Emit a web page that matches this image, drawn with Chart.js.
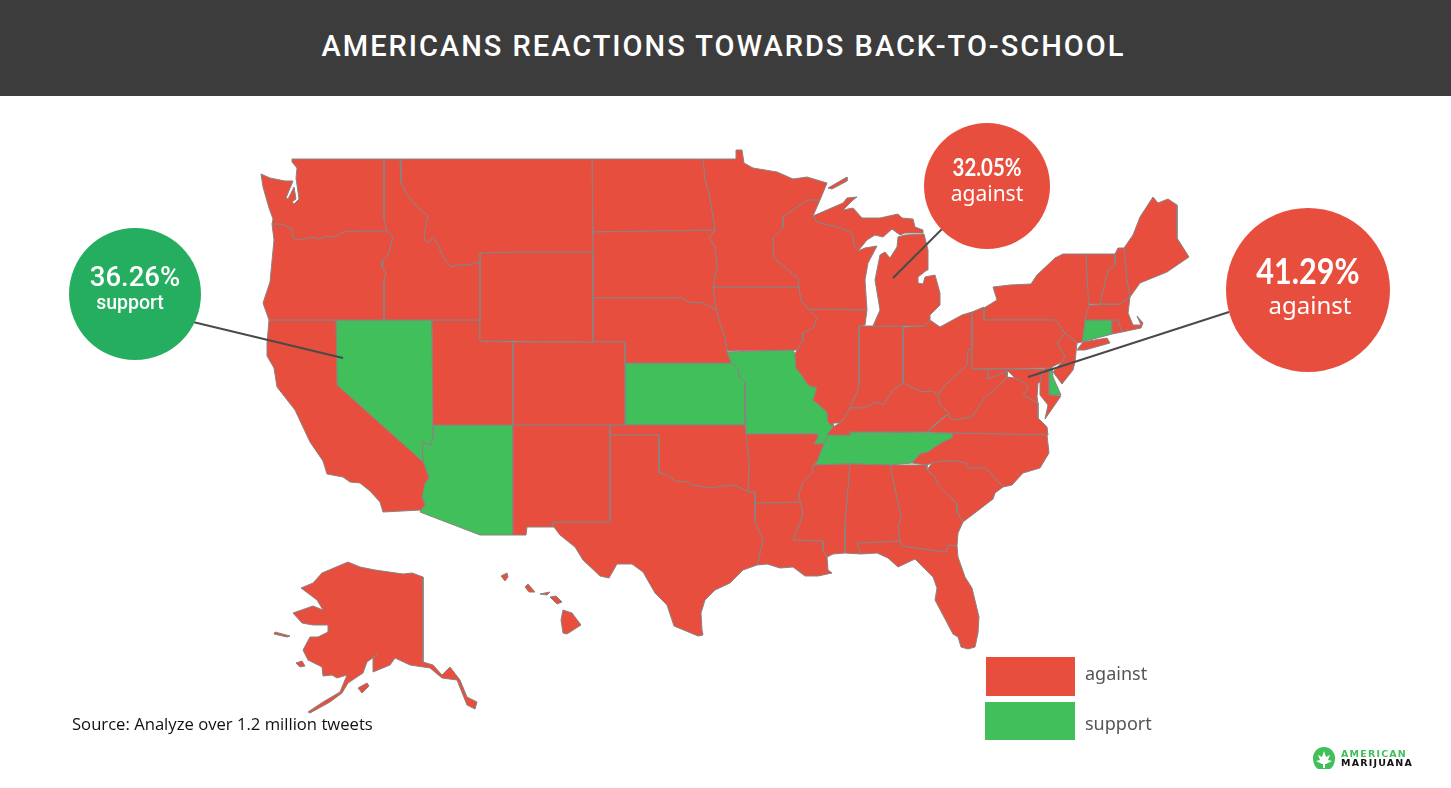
<!DOCTYPE html>
<html>
<head>
<meta charset="utf-8">
<title>Americans reactions towards back-to-school</title>
<script src="https://cdn.jsdelivr.net/npm/chart.js@4/dist/chart.umd.min.js"></script>
<style>
  html, body { margin: 0; padding: 0; background: #fff; overflow: hidden; }
  #page { position: relative; width: 1451px; height: 788px; }
  #map { position: absolute; left: 0; top: 0; }
  #header {
    position: absolute; left: 0; top: 0; width: 1451px; height: 96px; background: #3c3c3c;
    color: #fff; font: 500 29px Roboto, sans-serif; letter-spacing: 2px;
    text-indent: -4px; text-align: center; line-height: 92px;
  }
  #source { position: absolute; left: 72px; top: 712px; font: 16.65px "Open Sans", sans-serif; color: #111; }
  .swatch { position: absolute; }
  .key { position: absolute; left: 1085px; font: 18px "Noto Sans", sans-serif; color: #555; }
  #logo { position: absolute; left: 1312px; top: 746px; width: 24px; height: 23px; }
  .brand { position: absolute; left: 1341px; font: 900 9.5px/9px "DejaVu Sans", sans-serif; letter-spacing: 1.2px; }
</style>
</head>
<body>
<div id="page">
  <canvas id="map" width="1451" height="788"></canvas>
  <div id="header">AMERICANS REACTIONS TOWARDS BACK-TO-SCHOOL</div>
  <div id="source">Source: Analyze over 1.2 million tweets</div>
  <div class="swatch" style="left:986px;top:657px;width:89px;height:39px;background:#e84e3d"></div>
  <div class="swatch" style="left:985px;top:702px;width:90px;height:38px;background:#40bf5a"></div>
  <div class="key" style="top:661px">against</div>
  <div class="key" style="top:711px">support</div>
  <svg id="logo" viewBox="0 0 24 23">
    <path d="M1 12a11 11 0 0 1 22 0c0 5-2 9-5 11H6c-3-2-5-6-5-11z" fill="#40bf5a"/>
    <path d="M12 5l2 6 4-2-2 5 4 1-6 3h-1v4h-2v-4h-1l-6-3 4-1-2-5 4 2z" fill="#fff"/>
  </svg>
  <div class="brand" style="top:749px;color:#40bf5a">AMERICAN</div>
  <div class="brand" style="top:758px;color:#111">MARIJUANA</div>
</div>
<script>
// state outlines, in map units
const WA = [[292,159],[384,159],[384,220],[387,231],[353,231],[343,232],[335,237],[327,236],[321,239],[311,237],[298,240],[293,238],[292,229],[283,224],[272,224],[273,219],[269,208],[263,187],[261,174],[270,178],[285,181],[293,181],[286,198],[288,199],[294,187],[296,199],[292,202],[294,204],[299,199],[296,178],[297,168],[292,162],[292,159]];
const OR = [[272,224],[283,224],[292,229],[293,238],[298,240],[311,237],[321,239],[327,236],[335,237],[343,232],[353,231],[387,231],[393,237],[388,255],[383,260],[382,267],[386,274],[384,280],[384,320],[269,320],[263,303],[270,282],[274,240],[272,224]];
const ID = [[384,159],[400,159],[401,183],[407,195],[417,207],[428,216],[425,230],[424,240],[428,243],[433,237],[438,245],[443,257],[451,267],[458,265],[472,265],[477,261],[480,265],[480,320],[384,320],[384,280],[386,274],[382,267],[383,260],[388,255],[393,237],[387,231],[384,220],[384,159]];
const MT = [[400,159],[592,159],[593,252],[512,252],[480,253],[480,265],[477,261],[472,265],[458,265],[451,267],[443,257],[438,245],[433,237],[428,243],[424,240],[425,230],[428,216],[417,207],[407,195],[401,183],[400,159]];
const WY = [[480,253],[512,252],[593,252],[593,342],[480,341],[480,253]];
const NV = [[336,320],[432,320],[433,437],[431,445],[423,442],[422,445],[423,462],[337,385],[336,320]];
const CA = [[269,320],[336,320],[337,385],[423,462],[429,478],[425,483],[422,497],[425,505],[421,510],[383,512],[380,502],[370,491],[360,483],[350,482],[343,477],[327,474],[323,461],[310,442],[295,410],[277,387],[274,368],[267,356],[267,343],[269,320]];
const AZ = [[433,425],[513,425],[513,535],[480,535],[420,512],[421,510],[425,505],[422,497],[425,483],[429,478],[423,462],[422,445],[423,442],[431,445],[433,437],[433,425]];
const UT = [[432,320],[480,320],[480,341],[513,342],[513,425],[433,425],[432,320]];
const CO = [[513,342],[625,342],[625,425],[513,425],[513,342]];
const NM = [[513,425],[610,425],[610,522],[552,522],[554,527],[527,527],[526,535],[513,535],[513,425]];
const TX = [[610,435],[659,435],[659,473],[668,475],[675,481],[688,482],[692,485],[712,488],[723,486],[735,485],[748,492],[755,492],[755,522],[763,540],[760,553],[757,565],[743,570],[730,583],[715,590],[705,600],[701,613],[702,630],[703,635],[698,636],[674,626],[667,605],[655,593],[643,572],[632,564],[617,564],[609,578],[600,576],[583,560],[575,547],[560,535],[554,527],[552,522],[610,522],[610,435]];
const OK = [[610,425],[745,425],[746,434],[749,463],[748,492],[735,485],[723,486],[712,488],[692,485],[688,482],[675,481],[668,475],[659,473],[659,435],[610,435],[610,425]];
const KS = [[625,363],[731,363],[738,368],[739,377],[745,382],[745,425],[625,425],[625,363]];
const NE = [[593,298],[682,298],[688,302],[703,303],[716,310],[720,323],[725,338],[727,352],[731,363],[625,363],[625,342],[593,342],[593,298]];
const SD = [[593,232],[715,230],[709,238],[715,247],[717,267],[713,287],[715,303],[716,310],[703,303],[688,302],[682,298],[593,298],[593,232]];
const ND = [[592,159],[703,159],[705,180],[709,193],[715,230],[593,232],[592,159]];
const MN = [[703,159],[736,159],[736,150],[742,150],[744,163],[753,168],[777,172],[793,179],[807,177],[827,183],[820,200],[807,200],[783,217],[783,228],[773,238],[774,258],[783,266],[798,278],[799,287],[713,287],[717,267],[715,247],[709,238],[715,230],[709,193],[705,180],[703,159]];
const ISLE_ROYALE = [[828,188],[847,177],[847,181],[832,189],[828,188]];
const WI = [[807,200],[820,200],[813,216],[817,222],[840,228],[852,233],[855,248],[858,251],[865,248],[877,246],[868,263],[865,280],[867,310],[808,309],[801,300],[799,287],[798,278],[783,266],[774,258],[773,238],[783,228],[783,217],[807,200]];
const MI_UPPER = [[813,216],[817,222],[840,228],[852,233],[855,248],[858,251],[867,240],[875,235],[883,237],[892,229],[900,235],[905,233],[923,233],[923,230],[915,227],[913,219],[902,218],[898,214],[880,218],[862,218],[853,208],[843,210],[853,200],[857,197],[847,198],[843,203],[813,216]];
const MI_LOWER = [[873,326],[925,326],[930,320],[930,315],[940,305],[940,293],[935,275],[925,277],[923,284],[918,283],[918,277],[927,270],[928,250],[924,234],[905,235],[898,237],[897,247],[890,258],[885,252],[880,255],[875,280],[880,310],[873,326]];
const IA = [[713,287],[799,287],[801,300],[808,309],[817,318],[813,328],[803,333],[803,340],[797,350],[727,351],[725,338],[720,323],[716,310],[715,303],[713,287]];
const MO = [[727,352],[793,350],[795,354],[796,368],[803,377],[808,385],[817,388],[813,400],[827,412],[828,422],[833,427],[827,437],[824,444],[814,444],[818,437],[817,434],[746,434],[745,382],[739,377],[738,368],[731,363],[727,352]];
const AR = [[746,434],[817,434],[818,437],[814,444],[824,444],[820,453],[817,462],[813,465],[812,473],[803,482],[799,493],[800,502],[755,503],[755,492],[748,492],[749,463],[746,434]];
const LA = [[755,503],[800,502],[803,513],[800,523],[793,540],[823,541],[823,550],[827,557],[828,570],[832,573],[818,576],[805,576],[793,567],[780,568],[767,564],[757,565],[760,553],[763,540],[755,522],[755,503]];
const MS = [[813,465],[850,464],[845,523],[845,553],[833,554],[827,557],[823,550],[823,541],[793,540],[800,523],[803,513],[800,502],[799,493],[803,482],[812,473],[813,465]];
const AL = [[850,464],[890,465],[901,517],[898,527],[900,541],[857,543],[861,554],[845,553],[845,523],[850,464]];
const GA = [[890,465],[927,465],[927,470],[935,477],[938,485],[948,495],[957,503],[957,512],[963,522],[958,533],[957,546],[948,545],[946,552],[902,546],[900,541],[898,527],[901,517],[890,465]];
const FL = [[857,543],[900,541],[902,546],[946,552],[948,545],[957,546],[958,557],[965,577],[972,588],[979,617],[978,633],[975,647],[968,649],[961,647],[958,637],[953,634],[935,600],[937,588],[933,577],[915,559],[898,567],[888,558],[877,553],[861,554],[857,543]];
const SC = [[927,470],[932,463],[943,461],[957,461],[966,463],[967,468],[986,468],[1003,487],[995,493],[993,499],[980,509],[963,522],[957,512],[957,503],[948,495],[938,485],[935,477],[927,470]];
const NC = [[953,433],[1047,435],[1049,453],[1040,468],[1023,473],[1012,485],[1003,487],[986,468],[967,468],[966,463],[957,461],[943,461],[932,463],[927,465],[912,463],[920,454],[928,452],[935,447],[943,442],[952,438],[953,433]];
const TN = [[827,435],[850,435],[850,432],[953,433],[952,438],[943,442],[935,447],[928,452],[920,454],[912,463],[890,465],[850,464],[813,465],[817,462],[820,453],[824,444],[827,435]];
const KY = [[827,435],[850,435],[850,432],[927,432],[933,426],[945,416],[950,414],[940,405],[938,395],[933,391],[922,392],[903,383],[893,390],[883,405],[877,402],[863,408],[850,408],[845,417],[840,423],[833,427],[827,435]];
const IL = [[808,309],[867,310],[865,325],[859,326],[859,382],[858,390],[851,405],[850,408],[845,417],[840,423],[833,423],[833,427],[828,422],[827,412],[813,400],[817,388],[808,385],[803,377],[796,368],[795,354],[797,350],[803,340],[803,333],[813,328],[817,318],[808,309]];
const IN = [[859,326],[903,326],[903,383],[893,390],[883,405],[877,402],[863,408],[850,408],[851,405],[858,390],[859,382],[859,326]];
const OH = [[903,327],[925,326],[930,320],[940,327],[962,315],[972,312],[972,348],[968,350],[967,365],[953,378],[945,385],[938,395],[933,391],[922,392],[903,383],[903,327]];
const PA = [[972,312],[984,307],[984,320],[1055,320],[1065,333],[1057,343],[1065,357],[1062,362],[1050,368],[972,369],[972,312]];
const NY = [[984,308],[997,300],[993,287],[1010,285],[1031,284],[1037,275],[1055,258],[1063,254],[1086,254],[1087,280],[1089,305],[1085,320],[1082,342],[1077,343],[1065,333],[1055,320],[984,320],[984,308]];
const LONG_ISLAND = [[1083,342],[1107,338],[1110,343],[1085,350],[1077,350],[1083,342]];
const NJ = [[1065,333],[1077,343],[1076,352],[1075,362],[1073,370],[1062,384],[1059,380],[1053,372],[1062,362],[1065,357],[1057,343],[1065,333]];
const DE = [[1049,367],[1052,367],[1053,377],[1061,395],[1049,395],[1049,367]];
const MD_EAST = [[1044,369],[1049,367],[1049,395],[1061,396],[1045,419],[1048,405],[1040,395],[1040,382],[1044,369]];
const MD_WEST = [[988,369],[1044,369],[1040,382],[1038,383],[1037,397],[1038,403],[1023,395],[1029,387],[1025,383],[1015,378],[1008,371],[1000,374],[988,379],[988,369]];
const VA = [[927,432],[947,415],[953,420],[972,417],[985,397],[997,388],[1007,377],[1015,378],[1025,383],[1029,387],[1023,395],[1038,403],[1038,418],[1047,427],[1048,435],[953,433],[927,432]];
const WV = [[972,348],[972,369],[988,369],[988,379],[1000,374],[1008,371],[1007,377],[997,388],[985,397],[972,417],[953,420],[947,415],[950,414],[940,405],[938,395],[945,385],[953,378],[967,365],[968,350],[972,348]];
const VT = [[1086,254],[1115,254],[1115,265],[1108,270],[1102,295],[1100,304],[1088,304],[1087,280],[1086,254]];
const NH = [[1115,254],[1118,248],[1124,248],[1127,280],[1130,297],[1120,304],[1100,304],[1102,295],[1108,270],[1115,265],[1115,254]];
const ME = [[1124,248],[1133,235],[1140,217],[1153,197],[1158,203],[1168,199],[1177,205],[1177,238],[1189,257],[1167,272],[1140,283],[1130,297],[1127,280],[1124,248]];
const MA = [[1088,305],[1120,304],[1130,297],[1128,313],[1133,325],[1141,325],[1137,316],[1143,323],[1141,328],[1122,332],[1118,320],[1085,320],[1088,305]];
const RI = [[1112,320],[1118,320],[1122,332],[1112,334],[1112,320]];
const CT = [[1085,320],[1112,320],[1112,334],[1082,342],[1085,320]];
const AK = [[423,577],[423,662],[433,665],[442,675],[450,667],[460,680],[467,697],[477,702],[475,709],[467,705],[457,680],[442,678],[430,668],[410,665],[395,658],[390,665],[373,672],[373,658],[378,654],[367,662],[363,673],[348,683],[342,693],[330,702],[310,713],[308,712],[323,702],[340,692],[347,675],[337,678],[332,675],[323,676],[322,667],[308,660],[303,650],[310,637],[318,637],[328,632],[328,625],[313,625],[302,623],[293,613],[313,606],[323,610],[317,600],[301,588],[313,583],[322,573],[348,562],[360,567],[375,570],[403,574],[412,573],[423,577]];
const AK_LAWRENCE = [[275,632],[290,636],[287,637],[274,634],[275,632]];
const AK_NUNIVAK = [[296,663],[302,661],[305,666],[300,667],[296,663]];
const AK_KODIAK = [[358,688],[367,683],[369,686],[362,693],[358,688]];
const HI_KAUAI = [[501,576],[507,573],[508,577],[505,581],[501,576]];
const HI_OAHU = [[525,587],[528,584],[535,592],[529,592],[525,587]];
const HI_MOLOKAI = [[540,594],[550,592],[547,595],[540,594]];
const HI_MAUI = [[550,597],[556,596],[562,602],[557,604],[550,597]];
const HI_BIG = [[563,610],[572,613],[581,625],[567,634],[563,633],[561,620],[563,610]];

const againstStates = [WA, OR, ID, MT, WY, CA, UT, CO, NM, TX, OK, NE, SD, ND, MN, ISLE_ROYALE, WI, MI_UPPER, MI_LOWER, IA, AR, LA, MS, AL, GA, FL, SC, NC, KY, IL, IN, OH, PA, NY, LONG_ISLAND, NJ, MD_EAST, MD_WEST, VA, WV, VT, NH, ME, MA, RI, AK, AK_LAWRENCE, AK_NUNIVAK, AK_KODIAK, HI_KAUAI, HI_OAHU, HI_MOLOKAI, HI_MAUI, HI_BIG];
const supportStates = [NV, AZ, KS, MO, TN, CT, DE];

// callouts
const shares = ["36.26%", "32.05%", "41.29%"];
const stances = ["support", "against", "against"];
const calloutCenters = [[135, 294], [987, 186], [1308, 290]];
const calloutRadii = [66, 63, 82];
const calloutColors = ["#26ae60", "#e84e3d", "#e84e3d"];
const leaderLines = [[[193, 322], [343, 358]], [[942, 229], [893, 278]], [[1229, 312], [1028, 377]]];
const shareFonts = ["500 27.5px Roboto", "bold 24px Lato", "bold 36px Lato"];
const shareSqueeze = [1, 0.85, 0.85];
const stanceFonts = ["500 19.5px Roboto", "21px 'Noto Sans'", "24px 'Noto Sans'"];
const shareOffsets = [[0, -15], [0, -18], [0, -18]];
const stanceOffsets = [[-5, 10], [0, 9], [2, 17]];

const toPoints = (list) => list.map(([x, y]) => ({ x, y }));

const stateDataset = (outline, color) => ({
  type: "scatter",
  data: toPoints(outline),
  showLine: true,
  fill: "shape",
  backgroundColor: color,
  borderColor: "#8a8280",
  borderWidth: 1,
  pointRadius: 0,
  tension: 0,
  order: 3,
});

const datasets = [
  ...againstStates.map((s) => stateDataset(s, "#e84e3d")),
  ...supportStates.map((s) => stateDataset(s, "#40bf5a")),
  ...leaderLines.map((l) => ({
    type: "scatter",
    data: toPoints(l),
    showLine: true,
    borderColor: "#4a4a4a",
    borderWidth: 2,
    pointRadius: 0,
    order: 2,
  })),
  {
    type: "scatter",
    data: toPoints(calloutCenters),
    backgroundColor: calloutColors,
    borderWidth: 0,
    pointRadius: calloutRadii,
    order: 1,
  },
];

// labels inside the callout circles
const calloutLabels = {
  id: "calloutLabels",
  afterDraw(chart) {
    const { ctx, scales } = chart;
    ctx.save();
    ctx.fillStyle = "#fff";
    ctx.textAlign = "center";
    ctx.textBaseline = "middle";
    calloutCenters.forEach(([x, y], i) => {
      const px = scales.x.getPixelForValue(x);
      const py = scales.y.getPixelForValue(y);
      ctx.save();
      ctx.translate(px + shareOffsets[i][0], py + shareOffsets[i][1]);
      ctx.scale(shareSqueeze[i], 1);
      ctx.font = shareFonts[i];
      ctx.fillText(shares[i], 0, 0);
      ctx.restore();
      ctx.font = stanceFonts[i];
      ctx.fillText(stances[i], px + stanceOffsets[i][0], py + stanceOffsets[i][1]);
    });
    ctx.restore();
  },
};

new Chart(document.getElementById("map"), {
  type: "scatter",
  data: { datasets },
  plugins: [calloutLabels],
  options: {
    responsive: false,
    animation: false,
    layout: { autoPadding: false, padding: 0 },
    plugins: { legend: { display: false }, tooltip: { enabled: false } },
    scales: {
      x: { type: "linear", min: 0, max: 1451, display: false },
      y: { type: "linear", min: 0, max: 788, reverse: true, display: false },
    },
  },
});
</script>
</body>
</html>
